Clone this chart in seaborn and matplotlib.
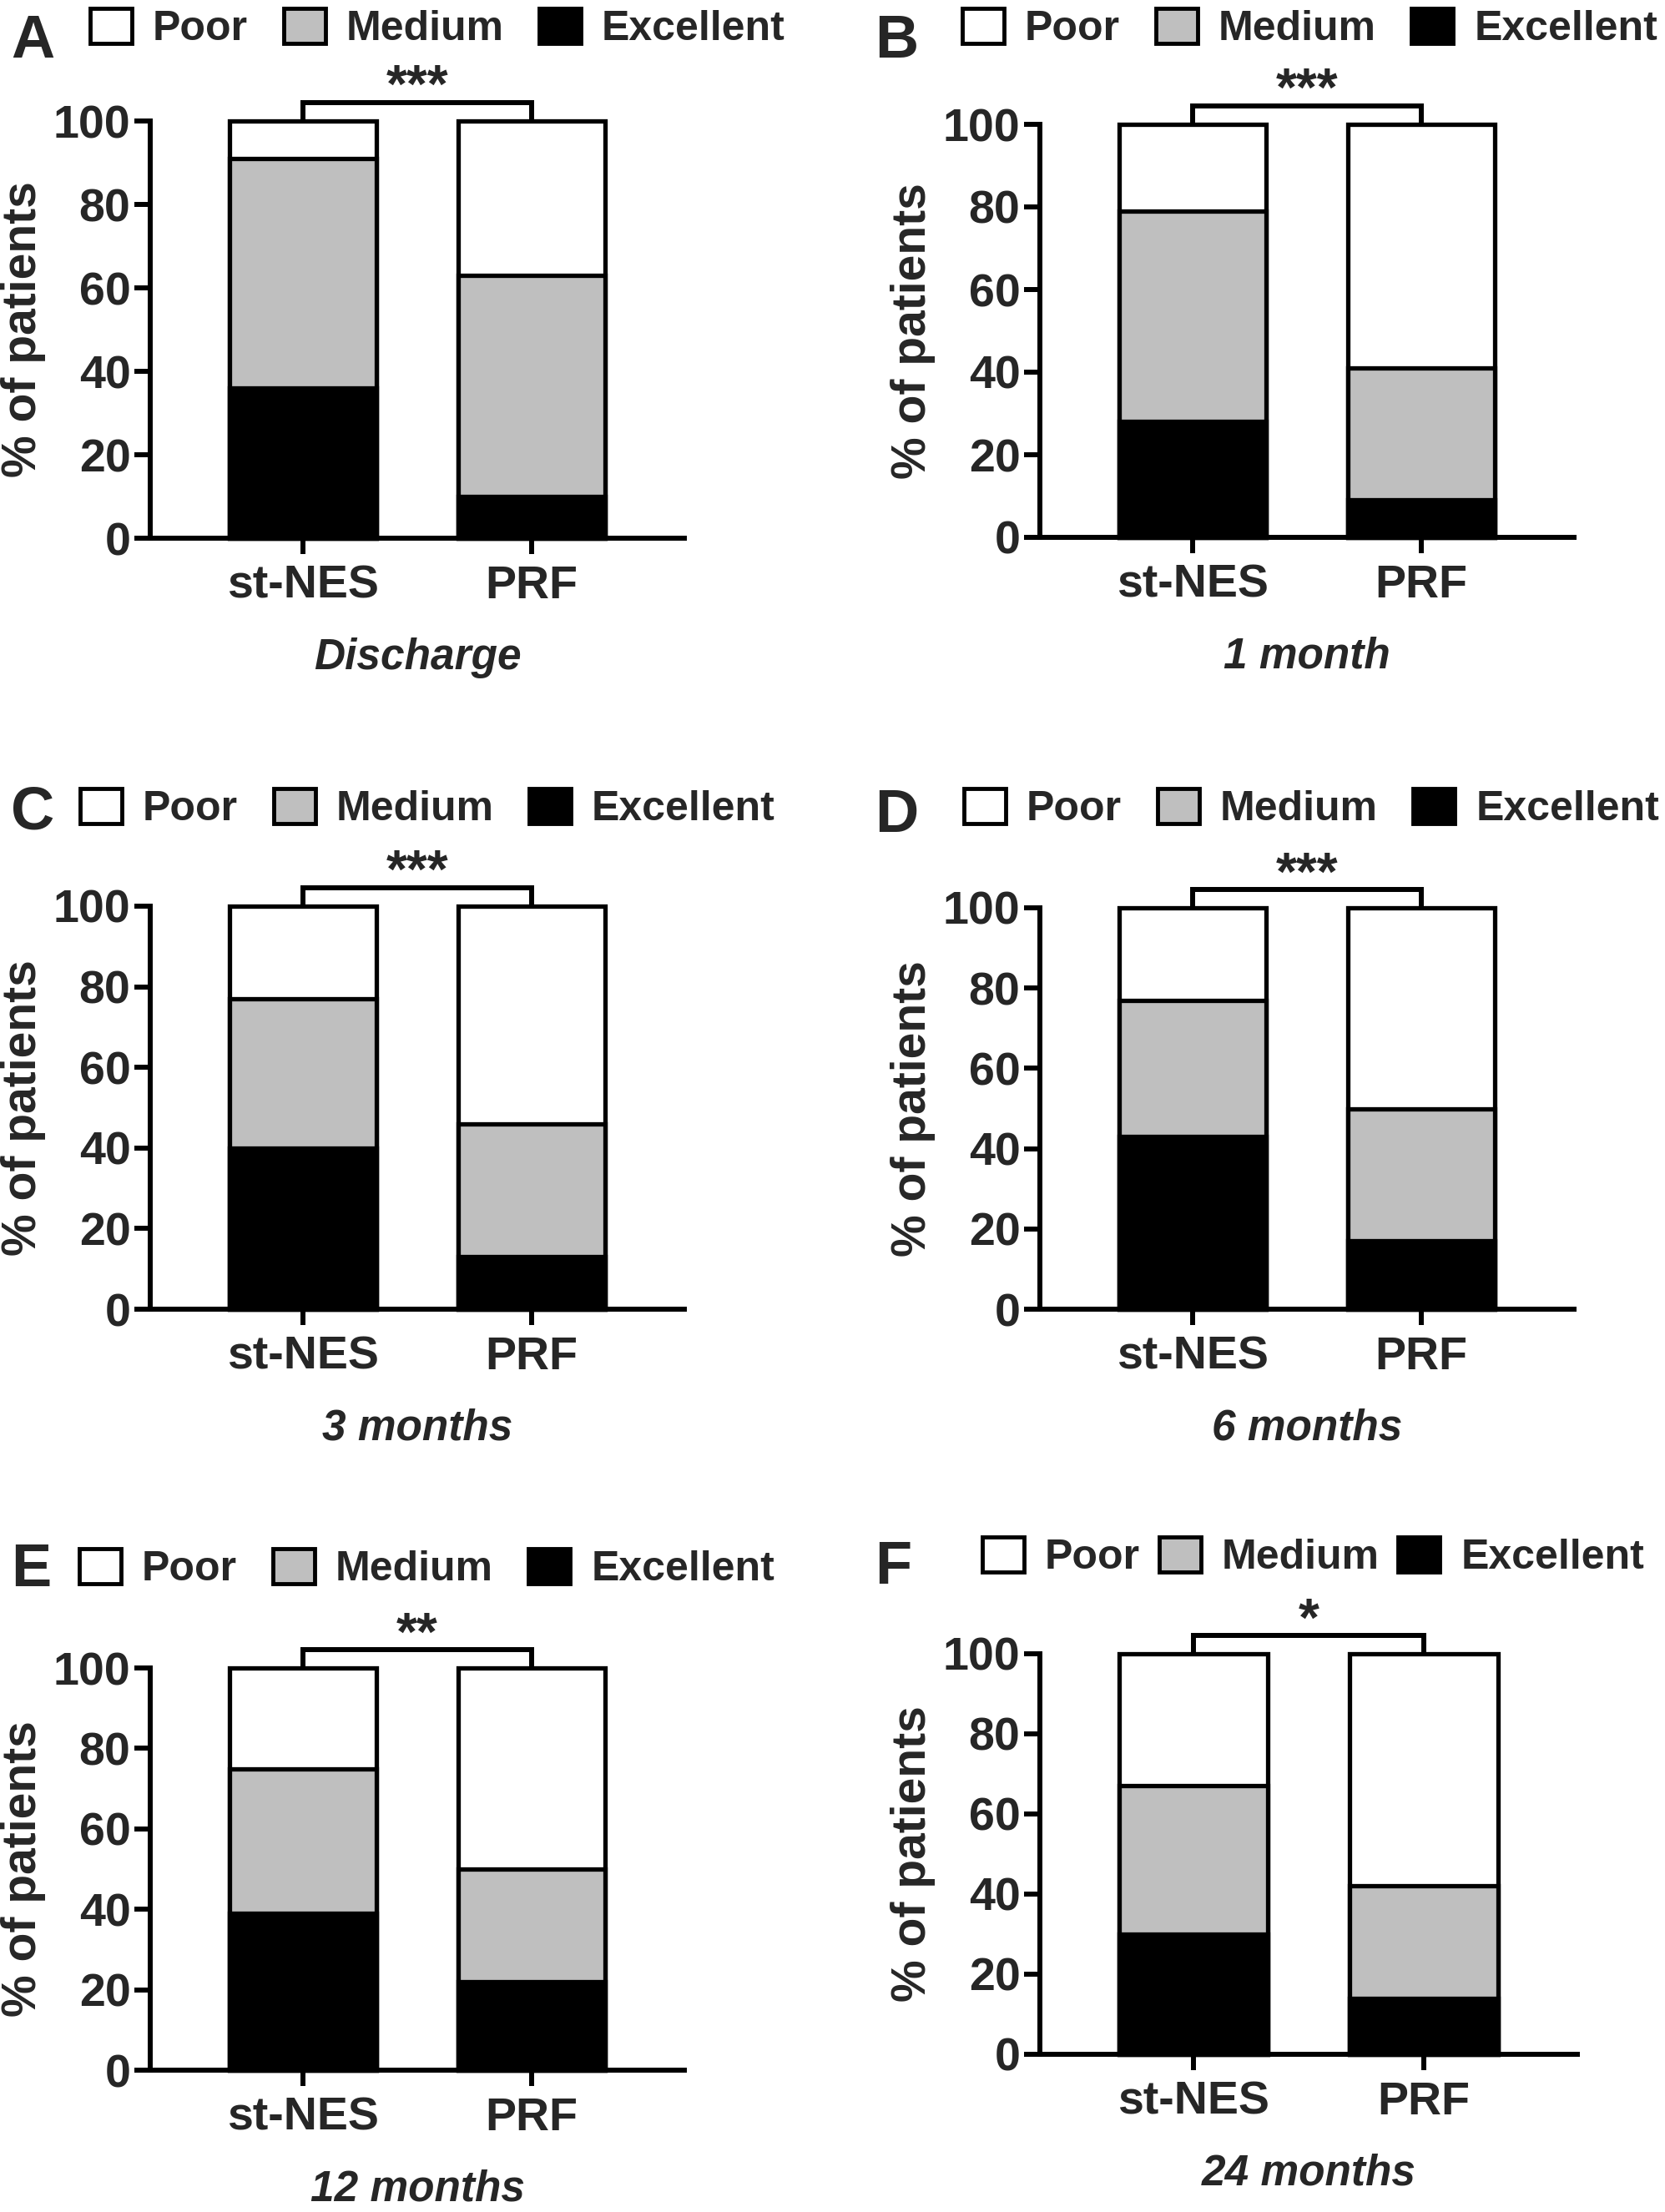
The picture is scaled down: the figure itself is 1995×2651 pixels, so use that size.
import matplotlib
matplotlib.use("Agg")
import matplotlib.pyplot as plt
from matplotlib.patches import Patch
import seaborn as sns
import pandas as pd

# ---------------- data ----------------
groups = ["st-NES", "PRF"]
timepoints = ["Discharge", "1 month", "3 months", "6 months", "12 months", "24 months"]
panel_letters = ["A", "B", "C", "D", "E", "F"]
outcomes = ["Poor", "Medium", "Excellent"]

excellent_stnes = [36, 28, 40, 43, 39, 30]
medium_stnes = [55, 51, 37, 34, 36, 37]
poor_stnes = [9, 21, 23, 23, 25, 33]

excellent_prf = [10, 9, 13, 17, 22, 14]
medium_prf = [53, 32, 33, 33, 28, 28]
poor_prf = [37, 59, 54, 50, 50, 58]

significance = ["***", "***", "***", "***", "**", "*"]
yticks = [0, 20, 40, 60, 80, 100]

# ---------------- style ----------------
sns.set_style("ticks")
plt.rcParams["font.family"] = ["Liberation Sans", "DejaVu Sans"]
plt.rcParams["font.weight"] = "bold"

colors = {"Poor": "white", "Medium": "#bfbfbf", "Excellent": "black"}

W, H = 1995, 2651
fig = plt.figure(figsize=(W / 100, H / 100), dpi=100)

# axes boxes in pixels: (spine_x, right_x, y0, y100)
boxes = [
    (180, 820, 645, 145),
    (1246, 1886, 644, 149),
    (180, 820, 1569, 1086),
    (1246, 1886, 1569, 1088),
    (180, 820, 2481, 1999),
    (1246, 1890, 2462, 1982),
]
legend_pos = [(108, 34), (1153, 34), (96, 969), (1155, 969), (95, 1880), (1177, 1866)]
legend_colspace = [0.85, 0.85, 0.85, 0.85, 0.85, 0.45]
letter_pos = [(13, 69), (1048, 69), (13, 994), (1048, 997), (13, 1901), (1048, 1898)]

LW_SPINE = 4.3
LW_BAR = 3.8
bracket_level = 104.5

for i in range(6):
    sx, rx, y0, y100 = boxes[i]
    ax = fig.add_axes([sx / W, 1 - y0 / H, (rx - sx) / W, (y0 - y100) / H])

    exc = [excellent_stnes[i], excellent_prf[i]]
    med = [medium_stnes[i], medium_prf[i]]
    poor = [poor_stnes[i], poor_prf[i]]
    df = pd.DataFrame({
        "group": groups,
        "Excellent": exc,
        "Medium": [e + m for e, m in zip(exc, med)],
        "Poor": [e + m + p for e, m, p in zip(exc, med, poor)],
    })

    for layer in ["Poor", "Medium", "Excellent"]:
        sns.barplot(data=df, x="group", y=layer, color=colors[layer], saturation=1,
                    edgecolor="black", linewidth=LW_BAR, width=0.645,
                    errorbar=None, ax=ax, zorder=2)
    for p in ax.patches:
        p.set_clip_on(False)

    ax.set_xlim(-0.668, 1.668)
    ax.set_ylim(0, 100)
    ax.set_yticks(yticks)
    sns.despine(ax=ax)
    ax.spines["left"].set_bounds(0, 100)
    for s in ["left", "bottom"]:
        ax.spines[s].set_linewidth(LW_SPINE)
        ax.spines[s].set_color("black")
        ax.spines[s].set_zorder(3)
    ax.tick_params(axis="both", direction="out", length=14, width=LW_SPINE,
                   color="black", labelsize=40, pad=3)
    ax.tick_params(axis="x", pad=9)
    for lab in ax.get_xticklabels() + ax.get_yticklabels():
        lab.set_fontweight("bold")

    ax.set_ylabel("% of patients", fontsize=41, fontweight="bold", labelpad=6)
    ax.set_xlabel(timepoints[i], fontsize=37, fontweight="bold", style="italic", labelpad=25)

    # significance bracket between the two bars
    ax.plot([0, 0, 1, 1], [100, bracket_level, bracket_level, 100], color="black",
            lw=LW_SPINE, clip_on=False, solid_joinstyle="miter", zorder=4)
    ax.text(0.5, bracket_level, significance[i], ha="center", va="baseline",
            fontsize=46, fontweight="bold", clip_on=False)

    # legend
    handles = [Patch(facecolor=colors[o], edgecolor="black", linewidth=3.5) for o in outcomes]
    lx, ly = legend_pos[i]
    fig.legend(handles, outcomes, loc="center left", bbox_to_anchor=(lx / W, 1 - ly / H),
               ncol=3, frameon=False, prop={"size": 36, "weight": "bold"},
               handlelength=1.0, handleheight=0.9, handletextpad=0.5,
               columnspacing=legend_colspace[i], borderpad=0, borderaxespad=0)

    px, py = letter_pos[i]
    fig.text(px / W, 1 - py / H, panel_letters[i], fontsize=52, fontweight="bold",
             ha="left", va="baseline")

fig.savefig("out.png", dpi=100, facecolor="white")
